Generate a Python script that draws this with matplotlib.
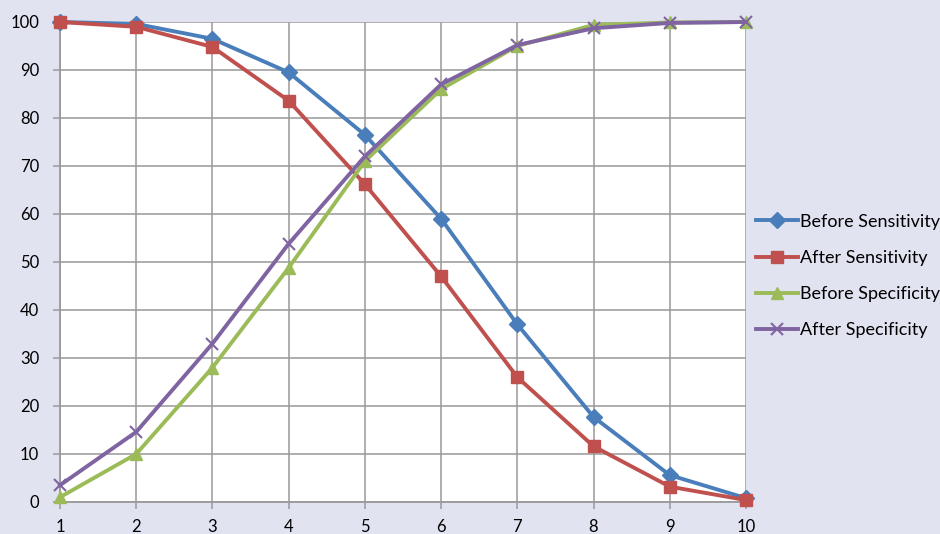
import matplotlib
matplotlib.use("Agg")
import matplotlib.pyplot as plt

x_vals = [1, 2, 3, 4, 5, 6, 7, 8, 9, 10]
before_sensitivity = [100, 99.6, 96.5, 89.5, 76.5, 59, 37, 17.7, 5.6, 0.8]
after_sensitivity = [100, 99, 94.8, 83.6, 66.2, 47, 26, 11.6, 3.2, 0.4]
before_specificity = [1, 10, 28, 48.8, 71, 86, 95, 99.4, 99.9, 100]
after_specificity = [3.5, 14.6, 33, 53.8, 72, 87, 95.2, 98.7, 99.8, 100]
series_names = ["Before Sensitivity", "After Sensitivity", "Before Specificity", "After Specificity"]
y_ticks = [0, 10, 20, 30, 40, 50, 60, 70, 80, 90, 100]

plt.rcParams['font.family'] = ['Lato', 'DejaVu Sans']
bg = '#e1e3f1'
grid_c = '#999999'

fig = plt.figure(figsize=(9.4, 5.34), dpi=100, facecolor=bg)
ax = fig.add_axes([60/940, 32/534, 686/940, 480/534])
ax.set_facecolor('white')

styles = [
    ('#4A7EBB', 'D', 8),
    ('#C0504D', 's', 9),
    ('#9BBB59', '^', 9),
    ('#8064A2', 'x', 9),
]
data = [before_sensitivity, after_sensitivity, before_specificity, after_specificity]
for vals, name, (c, m, ms) in zip(data, series_names, styles):
    kw = dict(color=c, lw=2.8, marker=m, markersize=ms, label=name, clip_on=False, zorder=3)
    if m == 'x':
        kw.update(markeredgewidth=1.5)
    ax.plot(x_vals, vals, **kw)

ax.set_xlim(1, 10)
ax.set_ylim(0, 100)
ax.set_xticks(x_vals)
ax.set_yticks(y_ticks)
ax.grid(True, color=grid_c, lw=1.1, zorder=0)
ax.set_axisbelow(True)
for s in ['top', 'right']:
    ax.spines[s].set_visible(False)
for s in ['left', 'bottom']:
    ax.spines[s].set_color(grid_c)
    ax.spines[s].set_linewidth(1.3)
ax.tick_params(axis='both', colors=grid_c, labelcolor='black', labelsize=12, length=5, width=1.1)
ax.tick_params(axis='y', pad=10)
ax.tick_params(axis='x', pad=7)

leg = fig.legend(loc='center left', bbox_to_anchor=(756/940, (534-276)/534), frameon=False,
                 fontsize=13, handlelength=2.35, handletextpad=0.1, labelspacing=1.12,
                 borderaxespad=0, borderpad=0)

fig.savefig('out.png', dpi=100, facecolor=bg)
